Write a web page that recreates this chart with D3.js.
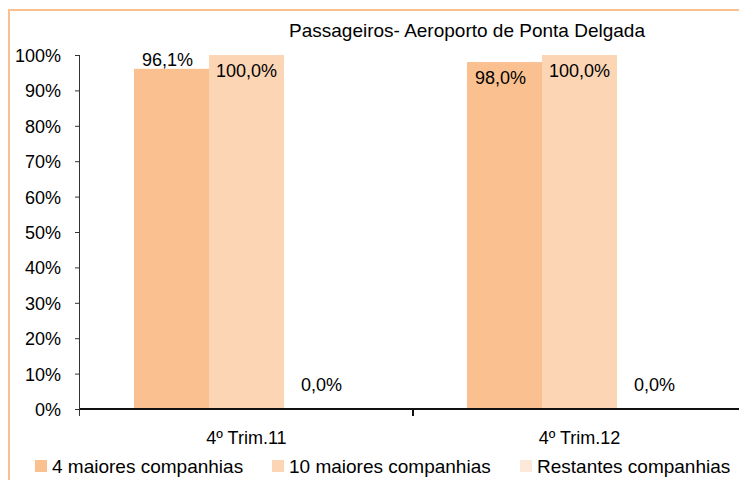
<!DOCTYPE html>
<html>
<head>
<meta charset="utf-8">
<script src="https://cdn.jsdelivr.net/npm/d3@7"></script>
<style>
  body { margin: 0; background: #fff; }
  text { font-family: "Liberation Sans", Arial, sans-serif; fill: #000; }
</style>
</head>
<body>
<div id="canva"></div>
<script>
// data
var categories = ["4º Trim.11", "4º Trim.12"];
var series = ["4 maiores companhias", "10 maiores companhias", "Restantes companhias"];
var values4 = [96.1, 98.0];
var values10 = [100.0, 100.0];
var valuesRest = [0.0, 0.0];
var yTicks = [0, 10, 20, 30, 40, 50, 60, 70, 80, 90, 100];
var colors = ["#FAC090", "#FCD5B5", "#FDE9D9"];
var title = "Passageiros- Aeroporto de Ponta Delgada";

var width = 739, height = 480;
var margin = {top: 55, left: 80, right: -7, bottom: 71};

var svg = d3.select("#canva")
  .append("svg")
  .attr("width", width)
  .attr("height", height);

// chart area border
svg.append("rect")
  .attr("x", 9).attr("y", 10)
  .attr("width", 760).attr("height", 500)
  .attr("fill", "#fff")
  .attr("stroke", "#FAC090")
  .attr("stroke-width", 2);

var x = d3.scaleBand()
  .domain(categories)
  .range([margin.left, width - margin.right]);

var xs = d3.scaleBand()
  .domain(series)
  .range([0, x.bandwidth()])
  .paddingOuter(0.72);

var y = d3.scaleLinear()
  .domain([0, 100])
  .range([height - margin.bottom, margin.top]);

var rows = categories.map(function(c, i){
  return [values4[i], values10[i], valuesRest[i]].map(function(v, j){
    return {cat: c, s: series[j], v: v, j: j};
  });
});
var flat = [].concat.apply([], rows);

// bars
svg.selectAll(".bar")
  .data(flat)
  .enter()
  .append("rect")
  .attr("class", "bar")
  .attr("x", function(d){ return x(d.cat) + xs(d.s); })
  .attr("y", function(d){ return y(d.v); })
  .attr("width", xs.bandwidth())
  .attr("height", function(d){ return y(0) - y(d.v); })
  .attr("fill", function(d){ return colors[d.j]; });

// y axis
var yAxis = svg.append("g")
  .attr("transform", "translate(" + margin.left + ",0)")
  .call(d3.axisLeft(y).tickValues(yTicks).tickSize(5).tickPadding(14)
    .tickFormat(function(d){ return d + "%"; }));
yAxis.select(".domain").attr("stroke", "#333").attr("d", "M-0.5," + y(100) + "V" + (y(0) + 7));
yAxis.selectAll(".tick line").attr("stroke", "#333");
yAxis.selectAll("text").style("font-size", "18px").attr("dy", "0.36em");

// x axis
var xAxis = svg.append("g")
  .attr("transform", "translate(0," + y(0) + ")");
xAxis.append("line")
  .attr("x1", margin.left).attr("x2", width + 10)
  .attr("stroke", "#111").attr("stroke-width", 2);
xAxis.selectAll(".sep")
  .data(categories.slice(1))
  .enter()
  .append("line")
  .attr("x1", function(d){ return x(d); })
  .attr("x2", function(d){ return x(d); })
  .attr("y1", 0).attr("y2", 7)
  .attr("stroke", "#111").attr("stroke-width", 2);
xAxis.selectAll(".catlabel")
  .data(categories)
  .enter()
  .append("text")
  .attr("x", function(d){ return x(d) + x.bandwidth() / 2; })
  .attr("y", 35)
  .attr("text-anchor", "middle")
  .style("font-size", "18px")
  .text(function(d){ return d; });

// data labels
function fmt(v){ return v.toFixed(1).replace(".", ",") + "%"; }
svg.selectAll(".lbl")
  .data(flat)
  .enter()
  .append("text")
  .attr("class", "lbl")
  .attr("x", function(d){ return x(d.cat) + xs(d.s) + xs.bandwidth() / 2 - (d.v < 99 && d.v > 0 ? 4 : 0); })
  .attr("y", function(d){
    var top = y(d.v);
    var out = Math.min(top - 3, y(0) - 18);
    if (out - 13 < margin.top - 3) return top + 22;
    return out;
  })
  .attr("text-anchor", "middle")
  .style("font-size", "18px")
  .text(function(d){ return fmt(d.v); });

// title
svg.append("text")
  .attr("x", 467).attr("y", 37)
  .attr("text-anchor", "middle")
  .style("font-size", "19px")
  .text(title);

// legend
var legendX = [35, 272, 520];
var lg = svg.selectAll(".legend")
  .data(series)
  .enter()
  .append("g")
  .attr("transform", function(d, i){ return "translate(" + legendX[i] + ",466)"; });
lg.append("rect")
  .attr("x", 0).attr("y", -6)
  .attr("width", 12).attr("height", 12)
  .attr("fill", function(d, i){ return colors[i]; });
lg.append("text")
  .attr("x", 17).attr("y", 7)
  .style("font-size", "19px")
  .text(function(d){ return d; });
</script>
</body>
</html>
